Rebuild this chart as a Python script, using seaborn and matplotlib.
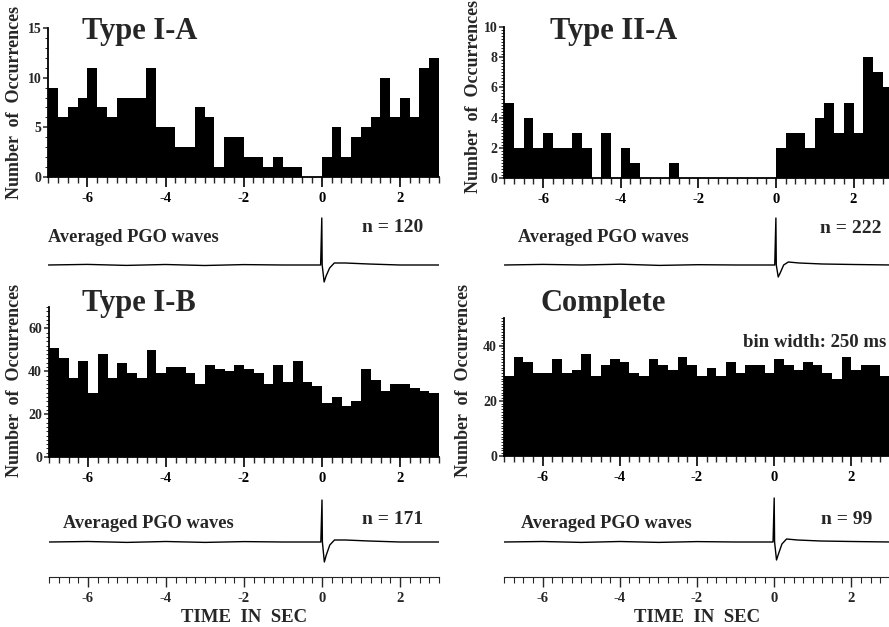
import numpy as np
import pandas as pd
import matplotlib
matplotlib.use("Agg")
import matplotlib.pyplot as plt
import seaborn as sns
from matplotlib.ticker import MultipleLocator, FixedLocator

# ---------------- data ----------------
bin_width = 0.25                     # 250 ms bins
t_range = (-7.0, 3.0)
bin_centers = np.arange(-7.0, 3.0, bin_width) + bin_width / 2

type_ia = [9, 6, 7, 8, 11, 7, 6, 8, 8, 8,
           11, 5, 5, 3, 3, 7, 6, 1, 4, 4,
           2, 2, 1, 2, 1, 1, 0, 0, 2, 5,
           2, 4, 5, 6, 10, 6, 8, 6, 11, 12]
type_iia = [5, 2, 4, 2, 3, 2, 2, 3, 2, 0,
            3, 0, 2, 1, 0, 0, 0, 1, 0, 0,
            0, 0, 0, 0, 0, 0, 0, 0, 2, 3,
            3, 2, 4, 5, 3, 5, 3, 8, 7, 6]
type_ib = [51, 46, 37, 45, 30, 48, 37, 44, 39, 37,
           50, 39, 42, 42, 39, 34, 43, 41, 40, 43,
           41, 39, 34, 43, 35, 45, 35, 33, 25, 28,
           24, 26, 41, 36, 31, 34, 34, 32, 31, 30]
complete = [29, 36, 34, 30, 30, 35, 30, 31, 37, 29,
            33, 35, 34, 30, 29, 35, 33, 31, 36, 33,
            29, 32, 29, 34, 30, 33, 33, 30, 35, 33,
            31, 34, 33, 30, 28, 36, 31, 33, 33, 29]

# averaged PGO wave traces (arbitrary units)
pgo_t = [-7.0, -6.0, -5.0, -4.0, -3.0, -2.0, -1.0, -0.03, 0.0, 0.01, 0.06, 0.11,
         0.2, 0.32, 0.6, 1.2, 2.0, 3.0]
pgo_ia = [0, 0.6, -0.4, 0.5, -0.5, 0.4, 0, 0, 47, 0, -17, -11,
          -3, 2, 2, 1, 0, 0]
pgo_iia = [0, 0.6, 0, 0.8, -0.4, 0.3, 0, 0, 47, 0, -12, -8,
           0, 3, 2, 1, 0.5, 0]
pgo_ib = [0, 0.5, -0.4, 0.5, -0.4, 0.4, 0, 0, 42, 0, -20, -13,
          -3, 2, 2, 1, 0, 0]
pgo_complete = [0, 0.5, -0.4, 0.5, -0.4, 0.4, 0, 0, 44, 0, -18, -12,
                -2, 3, 2, 1, 0.5, 0]

titles = ["Type I-A", "Type II-A", "Type I-B", "Complete"]
n_labels = ["n = 120", "n = 222", "n = 171", "n = 99"]
x_major = [-6, -4, -2, 0, 2]
ylims = [15, 10, 70, 50]
y_major = [5, 2, 20, 20]
y_minor = [1, 0.2, 2, 1]

# ---------------- style ----------------
sns.set_style("ticks")
plt.rcParams['font.family'] = ['Liberation Serif', 'DejaVu Serif']
plt.rcParams['font.weight'] = 'bold'
plt.rcParams['axes.unicode_minus'] = False

W, H = 889, 627
fig = plt.figure(figsize=(W / 100, H / 100), dpi=100)


def add_px(x0, x1, ytop, ybot):
    return fig.add_axes([x0 / W, 1 - ybot / H, (x1 - x0) / W, (ybot - ytop) / H])


hist_boxes = [(48.3, 439, 28, 177), (504.3, 892.3, 27, 178),
              (49, 439, 307, 457), (504, 890, 318, 456)]
pgo_boxes = [(48.3, 439, 195, 305), (504.3, 892.3, 195, 305),
             (49, 439, 472, 582), (504, 890, 472, 582)]
series = [type_ia, type_iia, type_ib, complete]
traces = [pgo_ia, pgo_iia, pgo_ib, pgo_complete]

title_pos = [(82, 39), (550, 39), (82, 311), (540, 311)]
ylabel_pos = [(15, 102), (474, 96), (15, 380), (464, 380)]
pgo_text_x = [-7.0, -6.65, -6.64, -6.55]
pgo_text_y = [28, 28, 19, 19]
n_text_x = [1.03, 1.14, 1.03, 1.2]
n_text_y = [38, 37, 22, 22]

for i in range(4):
    ax = add_px(*hist_boxes[i])
    df = pd.DataFrame({"t": bin_centers, "count": series[i]})
    sns.histplot(data=df, x="t", weights="count", binwidth=bin_width,
                 binrange=t_range, element="step", fill=True, color="black",
                 alpha=1, linewidth=0, ax=ax)
    ax.set_xlim(-7, 3)
    ax.set_ylim(0, ylims[i])
    ax.set_xlabel("")
    ax.set_ylabel("")
    sns.despine(ax=ax)
    for s in ["left", "bottom"]:
        ax.spines[s].set_linewidth(1.3)
        ax.spines[s].set_color("black")
    ax.xaxis.set_major_locator(FixedLocator(x_major))
    ax.xaxis.set_minor_locator(MultipleLocator(0.25))
    ax.yaxis.set_major_locator(MultipleLocator(y_major[i]))
    ax.yaxis.set_minor_locator(MultipleLocator(y_minor[i]))
    ax.tick_params(axis="x", which="major", direction="out", length=7,
                   width=1.2, pad=4, labelsize=10.5, colors="black")
    ax.tick_params(axis="x", which="minor", direction="out", length=4.5,
                   width=1.0)
    ax.tick_params(axis="y", which="major", direction="out", length=3.5,
                   width=1.1, pad=1.5, labelsize=10)
    ax.tick_params(axis="y", which="minor", direction="out", length=2,
                   width=0.7)
    for lab in ax.get_xticklabels() + ax.get_yticklabels():
        lab.set_fontweight("bold")
    ax.patch.set_alpha(0)

    tx, ty = title_pos[i]
    fig.text(tx / W, 1 - ty / H, titles[i], fontsize=22, fontweight="bold",
             va="baseline", ha="left")
    lx, ly = ylabel_pos[i]
    fig.text(lx / W, 1 - ly / H, "Number  of  Occurrences", fontsize=13,
             fontweight="bold", rotation=90, va="center", ha="center")

    # averaged PGO trace
    pax = add_px(*pgo_boxes[i])
    sns.lineplot(x=pgo_t, y=traces[i], ax=pax, color="black", linewidth=1.0,
                 sort=False, estimator=None)
    pax.set_xlim(-7, 3)
    pax.set_ylim(-40, 70)
    pax.axis("off")
    pax.text(pgo_text_x[i], pgo_text_y[i], "Averaged PGO waves", fontsize=13.2,
             fontweight="bold", va="center", ha="left")
    pax.text(n_text_x[i], n_text_y[i], n_labels[i], fontsize=14,
             fontweight="bold", va="center", ha="left")

    if i == 3:
        ax.text(-0.82, 41.3, "bin width: 250 ms", fontsize=13.5,
                fontweight="bold", va="center", ha="left")

    # time ruler under the bottom row
    if i >= 2:
        x0, x1 = hist_boxes[i][0], hist_boxes[i][1]
        rax = add_px(x0, x1, 576, 577)
        rax.set_xlim(-7, 3)
        rax.set_yticks([])
        for s in ["left", "right", "top"]:
            rax.spines[s].set_visible(False)
        rax.spines["bottom"].set_linewidth(0.8)
        rax.xaxis.set_major_locator(FixedLocator(x_major))
        rax.xaxis.set_minor_locator(MultipleLocator(0.25))
        rax.tick_params(axis="x", which="major", direction="out", length=7,
                        width=1.0, pad=4, labelsize=10.5)
        rax.tick_params(axis="x", which="minor", direction="out", length=4,
                        width=0.8)
        for lab in rax.get_xticklabels():
            lab.set_fontweight("bold")
        rax.set_xlabel("TIME  IN  SEC", fontsize=13.5, fontweight="bold",
                       labelpad=3)
        rax.patch.set_alpha(0)

fig.savefig("out.png", dpi=100)
